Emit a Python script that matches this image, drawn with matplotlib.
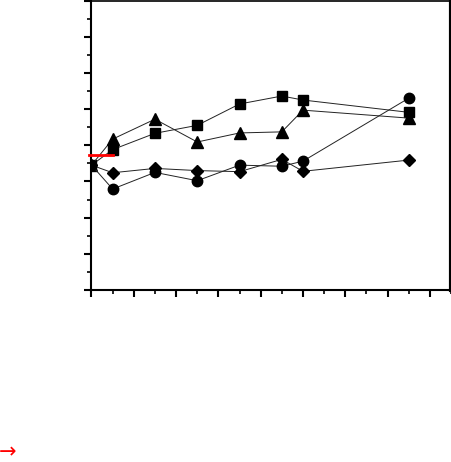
import numpy as np
import matplotlib
matplotlib.use('Agg')
import matplotlib.pyplot as plt
from matplotlib.ticker import MultipleLocator, NullFormatter

## data
x = [0, 1, 3, 5, 7, 9, 10, 15]
sq = [3.45, 3.88, 4.33, 4.55, 5.14, 5.36, 5.25, 4.91]
tri = [3.45, 4.17, 4.72, 4.09, 4.34, 4.37, 4.97, 4.75]
dia = [3.45, 3.24, 3.36, 3.30, 3.27, 3.61, 3.28, 3.59]
circ = [3.45, 2.79, 3.25, 3.02, 3.45, 3.42, 3.56, 5.30]
ref_x = [-0.1, 1]
ref_y = [3.72, 3.72]

fig = plt.figure(figsize=(4.52, 4.62), dpi=100)
ax = fig.add_axes([91.5/452, 1-290/462, (451-91.5)/452, 289.5/462])

lw = 0.7
ax.plot(x, sq, color='#222222', lw=lw, marker='s', ms=7, mfc='black', mec='black')
ax.plot(x, tri, color='#222222', lw=lw, marker='^', ms=8.5, mfc='black', mec='black')
ax.plot(x, dia, color='#222222', lw=lw, marker='D', ms=6.5, mfc='black', mec='black')
ax.plot(x, circ, color='#222222', lw=lw, marker='o', ms=7.5, mfc='black', mec='black')
ax.plot(ref_x, ref_y, color='red', lw=2, zorder=5, clip_on=False)

ax.set_xlim(0, 17)
ax.set_ylim(0, 8)
ax.xaxis.set_major_locator(MultipleLocator(2))
ax.xaxis.set_minor_locator(MultipleLocator(1))
ax.yaxis.set_major_locator(MultipleLocator(1))
ax.yaxis.set_minor_locator(MultipleLocator(0.5))
ax.xaxis.set_major_formatter(NullFormatter())
ax.yaxis.set_major_formatter(NullFormatter())
ax.tick_params(which='major', direction='out', length=5, width=1.5, color='black')
ax.tick_params(which='minor', direction='out', length=3, width=1.2, color='black')

for s in ['left', 'bottom']:
    ax.spines[s].set_linewidth(1.5)
ax.spines['top'].set_linewidth(1.2)
ax.spines['right'].set_linewidth(3)

fig.text(-0.003, 1-452/462, '\u2192', color='red', fontsize=15, va='center', ha='left')

fig.savefig('out.png', dpi=100)
